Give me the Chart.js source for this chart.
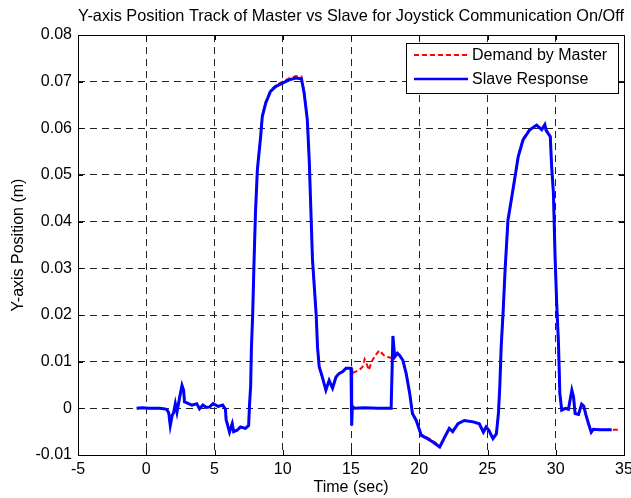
<!DOCTYPE html>
<html>
<head>
<meta charset="utf-8">
<script src="https://cdn.jsdelivr.net/npm/chart.js@4.4.1/dist/chart.umd.min.js"></script>
<style>
  html, body { margin: 0; padding: 0; background: #fff; }
</style>
</head>
<body>
<canvas id="c" width="631" height="498"></canvas>
<script>
// values
const titleText = "Y-axis Position Track of Master vs Slave for Joystick Communication On/Off";
const seriesNames = ["Demand by Master", "Slave Response"];

const xTicks = [-5, 0, 5, 10, 15, 20, 25, 30, 35];
const xTickLabels = ["-5", "0", "5", "10", "15", "20", "25", "30", "35"];
const yTicks = [-0.01, 0, 0.01, 0.02, 0.03, 0.04, 0.05, 0.06, 0.07, 0.08];
const yTickLabels = ["-0.01", "0", "0.01", "0.02", "0.03", "0.04", "0.05", "0.06", "0.07", "0.08"];

const masterT = [-0.7, -0.3, 0.2, 1.0, 1.5, 1.65, 1.76, 1.9, 2.0, 2.13, 2.25, 2.45, 2.62, 2.74, 2.8,
  3.1, 3.35, 3.7, 3.9, 4.15, 4.4, 4.65, 4.9, 5.27, 5.6, 5.8, 5.88, 6.1, 6.3, 6.4, 6.66, 6.9, 7.27,
  7.5, 7.57, 7.65, 7.7, 7.8, 7.9, 8.0, 8.14, 8.38, 8.5, 8.75, 9.1, 9.5, 9.98, 10.46, 10.96, 11.37,
  11.57, 11.8, 11.94, 12.06, 12.18, 12.45, 12.55, 12.67, 12.9, 13.16, 13.4, 13.65, 13.9, 14.14,
  14.4, 14.63, 15.0, 15.05, 15.6, 15.85, 16.0, 16.15, 16.3, 16.5, 16.7, 17.06, 17.4, 17.7, 18.07,
  18.2, 18.4, 18.55, 18.8, 19.04, 19.3, 19.5, 19.78, 20.15, 20.6, 21.0, 21.5, 21.86, 22.2, 22.45,
  22.84, 23.3, 23.95, 24.4, 24.7, 24.9, 25.1, 25.4, 25.65, 25.8, 25.9, 26.0, 26.15, 26.3, 26.5,
  26.9, 27.25, 27.6, 28.1, 28.6, 28.97, 29.2, 29.3, 29.6, 29.7, 29.83, 29.95, 30.07, 30.2, 30.3,
  30.44, 30.7, 30.93, 31.18, 31.3, 31.42, 31.67, 31.8, 31.9, 32.05, 32.2, 32.4, 32.6, 32.75, 33.2,
  34.1, 34.7];
const masterY = [0, 0.0001, 0, 0, -0.0002, -0.001, -0.0035, -0.0015, -0.001, 0.001, -0.0008, 0.0024,
  0.0049, 0.0038, 0.0014, 0.001, 0.0007, 0.001, -0.0001, 0.0007, 0.0002, 0.0003, 0.001, 0.0004,
  0.0007, -0.0002, -0.0026, -0.0049, -0.0031, -0.0048, -0.0046, -0.004, -0.0043, -0.0037, 0.001,
  0.0048, 0.0124, 0.0204, 0.0318, 0.0418, 0.0511, 0.0584, 0.0628, 0.0657, 0.0681, 0.0692, 0.07,
  0.0707, 0.0712, 0.0711, 0.0677, 0.0618, 0.0532, 0.0425, 0.0318, 0.02, 0.013, 0.0089, 0.0067,
  0.0041, 0.006, 0.0045, 0.0067, 0.0075, 0.0079, 0.0086, 0.0086, 0.0075, 0.0082, 0.0089, 0.0105,
  0.0095, 0.0082, 0.0099, 0.011, 0.0124, 0.0114, 0.011, 0.0107, 0.011, 0.0118, 0.0114, 0.0103,
  0.0075, 0.0032, -0.0011, -0.0026, -0.0056, -0.0063, -0.007, -0.0081, -0.0062, -0.0043, -0.0048,
  -0.0033, -0.0026, -0.0029, -0.0033, -0.0049, -0.004, -0.0047, -0.0063, -0.0055, -0.0011, 0.0046,
  0.013, 0.021, 0.0303, 0.0403, 0.0475, 0.0541, 0.0577, 0.0599, 0.0607, 0.0599, 0.0604, 0.0597,
  0.0584, 0.0518, 0.0461, 0.0325, 0.0225, 0.0139, 0.0032, -0.0004, 0, -0.0002, 0.0039, 0.0025,
  -0.0011, -0.0013, 0, 0.0009, 0.0005, -0.0013, -0.0033, -0.0049, -0.0045, -0.0046, -0.0046,
  -0.0046];

const slaveT = [-0.7, -0.3, 0.2, 1.0, 1.5, 1.65, 1.76, 1.9, 2.0, 2.13, 2.25, 2.45, 2.62, 2.74, 2.8,
  3.1, 3.35, 3.7, 3.9, 4.15, 4.4, 4.65, 4.9, 5.27, 5.6, 5.8, 5.85, 6.1, 6.3, 6.4, 6.66, 6.9, 7.27,
  7.5, 7.57, 7.65, 7.7, 7.8, 7.9, 8.0, 8.14, 8.38, 8.5, 8.75, 9.1, 9.5, 9.98, 10.46, 10.96, 11.37,
  11.57, 11.8, 11.94, 12.06, 12.18, 12.45, 12.55, 12.67, 12.9, 13.16, 13.4, 13.65, 13.9, 14.14,
  14.4, 14.63, 15.0, 15.05, 15.1, 15.24, 16.0, 17.0, 17.94, 18.07, 18.2, 18.4, 18.55, 18.8, 19.04,
  19.3, 19.5, 19.78, 20.15, 20.6, 21.0, 21.5, 21.86, 22.2, 22.45, 22.84, 23.3, 23.95, 24.4, 24.7,
  24.9, 25.1, 25.4, 25.65, 25.8, 25.9, 26.0, 26.15, 26.3, 26.5, 26.9, 27.25, 27.6, 28.1, 28.6,
  28.97, 29.2, 29.3, 29.6, 29.7, 29.83, 29.95, 30.07, 30.2, 30.3, 30.44, 30.7, 30.93, 31.18, 31.3,
  31.42, 31.67, 31.8, 31.9, 32.05, 32.2, 32.4, 32.6, 32.75, 33.2, 34.1];
const slaveY = [0, 0.0001, 0, 0, -0.0002, -0.001, -0.0037, -0.0015, -0.001, 0.001, -0.0008, 0.0024,
  0.0049, 0.0038, 0.0014, 0.001, 0.0007, 0.001, -0.0001, 0.0007, 0.0002, 0.0003, 0.001, 0.0004,
  0.0007, -0.0002, -0.0024, -0.0051, -0.0033, -0.005, -0.0047, -0.004, -0.0043, -0.0037, 0.001,
  0.0048, 0.0124, 0.0204, 0.0318, 0.0418, 0.0511, 0.0582, 0.0625, 0.0654, 0.0679, 0.069, 0.0697,
  0.0704, 0.0708, 0.0706, 0.0675, 0.0618, 0.0532, 0.0425, 0.0318, 0.02, 0.013, 0.0089, 0.0067,
  0.0039, 0.006, 0.0043, 0.0067, 0.0075, 0.0079, 0.0086, 0.0086, -0.0037, 0.0005, 0, 0.0001, 0, 0,
  0.0155, 0.011, 0.0118, 0.0114, 0.0103, 0.0075, 0.0032, -0.0011, -0.0026, -0.0058, -0.0065,
  -0.0072, -0.0083, -0.0062, -0.0043, -0.005, -0.0033, -0.0026, -0.0029, -0.0033, -0.0051, -0.004,
  -0.0047, -0.0065, -0.0055, -0.0011, 0.0046, 0.013, 0.021, 0.0303, 0.0403, 0.0475, 0.0539, 0.0575,
  0.0597, 0.0607, 0.0597, 0.0608, 0.0595, 0.0582, 0.0518, 0.0461, 0.0325, 0.0225, 0.0139, 0.0032,
  -0.0004, 0, -0.0002, 0.0039, 0.0025, -0.0011, -0.0013, 0, 0.0009, 0.0005, -0.0013, -0.0033,
  -0.0051, -0.0045, -0.0046, -0.0046];

const colors = ["#ff0000", "#0000ff"];

Chart.defaults.font.family = "'Liberation Sans', Arial, sans-serif";
Chart.defaults.font.size = 16;
Chart.defaults.color = "#000";

// box, inward ticks and legend in the MATLAB style
const frame = {
  id: "frame",
  afterDraw(chart) {
    const ctx = chart.ctx;
    const a = chart.chartArea;
    const xs = chart.scales.x, ys = chart.scales.y;
    ctx.save();
    ctx.strokeStyle = "#000";
    ctx.lineWidth = 1;
    ctx.setLineDash([]);
    ctx.beginPath();
    xTicks.forEach(v => {
      const px = Math.round(xs.getPixelForValue(v)) + 0.5;
      ctx.moveTo(px, a.bottom); ctx.lineTo(px, a.bottom - 5);
      ctx.moveTo(px, a.top); ctx.lineTo(px, a.top + 5);
    });
    yTicks.forEach(v => {
      const py = Math.round(ys.getPixelForValue(v)) + 0.5;
      ctx.moveTo(a.left, py); ctx.lineTo(a.left + 5, py);
      ctx.moveTo(a.right, py); ctx.lineTo(a.right - 5, py);
    });
    ctx.stroke();
    ctx.strokeRect(Math.round(a.left) + 0.5, Math.round(a.top) + 0.5,
      Math.round(a.right - a.left), Math.round(a.bottom - a.top));

    // legend
    const lw = 212, lh = 50;
    const lx = Math.round(a.right) - 6 - lw, ly = Math.round(a.top) + 8;
    ctx.fillStyle = "#fff";
    ctx.fillRect(lx, ly, lw, lh);
    ctx.strokeRect(lx + 0.5, ly + 0.5, lw, lh);
    ctx.font = "16px 'Liberation Sans', Arial, sans-serif";
    ctx.textBaseline = "middle";
    ctx.textAlign = "left";
    seriesNames.forEach((name, i) => {
      const y = ly + 12 + i * 24;
      ctx.beginPath();
      ctx.strokeStyle = colors[i];
      ctx.lineWidth = i === 0 ? 2 : 2.5;
      ctx.setLineDash(i === 0 ? [5, 3] : []);
      ctx.moveTo(lx + 8, y); ctx.lineTo(lx + 62, y);
      ctx.stroke();
      ctx.fillStyle = "#000";
      ctx.fillText(name, lx + 66, y + 1);
    });
    ctx.restore();
  }
};

new Chart(document.getElementById("c"), {
  type: "line",
  data: {
    datasets: [
      {
        label: seriesNames[0],
        data: masterT.map((t, i) => ({ x: t, y: masterY[i] })),
        borderColor: colors[0],
        borderWidth: 2,
        borderDash: [5, 3],
        pointRadius: 0,
        order: 1
      },
      {
        label: seriesNames[1],
        data: slaveT.map((t, i) => ({ x: t, y: slaveY[i] })),
        borderColor: colors[1],
        borderWidth: 3,
        pointRadius: 0,
        order: 0
      }
    ]
  },
  options: {
    responsive: false,
    animation: false,
    layout: { padding: { left: 0, right: 7, top: 0, bottom: 0 } },
    plugins: {
      legend: { display: false },
      tooltip: { enabled: false },
      title: {
        display: true,
        fullSize: false,
        text: titleText,
        color: "#000",
        font: { size: 16.5, weight: "normal" },
        padding: { top: 7, bottom: 8.2 }
      }
    },
    scales: {
      x: {
        type: "linear",
        min: -5,
        max: 35,
        afterBuildTicks: s => { s.ticks = xTicks.map(v => ({ value: v })); },
        afterFit: s => { s.height = 43; s.paddingLeft = 0; s.paddingRight = 0; },
        ticks: {
          color: "#000",
          padding: 5,
          maxRotation: 0,
          autoSkip: false,
          callback: (v, i) => xTickLabels[i]
        },
        grid: { color: "#222", lineWidth: 1, drawTicks: false },
        border: { display: false, dash: [7, 5] },
        title: {
          display: true,
          text: "Time (sec)",
          color: "#000",
          font: { size: 16 },
          padding: { top: 0, bottom: 1 }
        }
      },
      y: {
        type: "linear",
        min: -0.01,
        max: 0.08,
        afterBuildTicks: s => { s.ticks = yTicks.map(v => ({ value: v })); },
        afterFit: s => { s.width = 78; s.paddingTop = 0; s.paddingBottom = 0; },
        ticks: {
          color: "#000",
          padding: 6,
          autoSkip: false,
          callback: (v, i) => yTickLabels[i]
        },
        grid: { color: "#222", lineWidth: 1, drawTicks: false },
        border: { display: false, dash: [7, 5] },
        title: {
          display: true,
          text: "Y-axis Position (m)",
          color: "#000",
          font: { size: 16 },
          padding: { top: 9, bottom: 0 }
        }
      }
    }
  },
  plugins: [frame]
});
</script>
</body>
</html>
